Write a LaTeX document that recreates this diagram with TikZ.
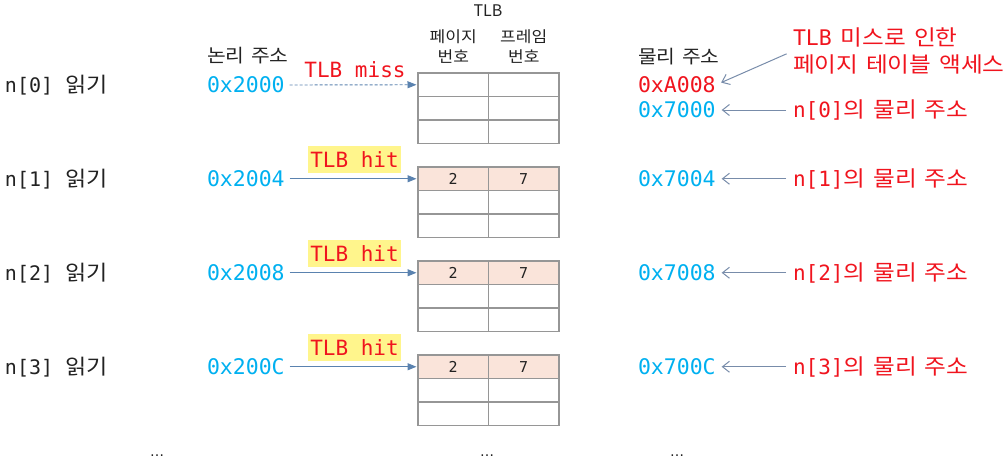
\documentclass[tikz,border=0pt]{standalone}
\usepackage{fontspec}
\setmainfont[FakeStretch=1.1, WordSpace=1.5]{Noto Sans CJK KR}
\setmonofont{DejaVu Sans Mono}
\newfontfamily\dotfont{DejaVu Sans}
\newfontfamily\titlefont{Noto Sans CJK KR}
\usetikzlibrary{arrows.meta}
\definecolor{addrblue}{RGB}{0,176,240}
\definecolor{lblred}{RGB}{240,20,30}
\definecolor{hlyellow}{RGB}{255,245,140}
\definecolor{hitpink}{RGB}{250,228,218}
\definecolor{gridgray}{RGB}{150,150,150}
\definecolor{arrowblue}{RGB}{90,130,175}
\definecolor{backblue}{RGB}{120,140,170}
\definecolor{inkdark}{RGB}{34,34,34}
\begin{document}
\begin{tikzpicture}[x=1pt,y=-1pt,
  every node/.style={inner sep=0pt, outer sep=0pt, text=inkdark},
  rowlabel/.style={anchor=west, font=\fontsize{21}{24}\selectfont},
  addr/.style={anchor=west, font=\fontsize{21.5}{26}\selectfont\ttfamily, text=addrblue},
  header/.style={anchor=west, font=\fontsize{18.5}{22}\selectfont},
  colhead/.style={align=center, font=\fontsize{15.5}{20}\selectfont},
  cell/.style={draw=gridgray, line width=1.5pt, minimum width=70.5pt, minimum height=23.5pt, font=\fontsize{15}{18}\selectfont\ttfamily},
  hitcell/.style={cell, fill=hitpink},
  hitlabel/.style={fill=hlyellow, inner xsep=2.5pt, minimum height=27pt, text=lblred, font=\fontsize{21}{25}\selectfont\ttfamily},
  misslabel/.style={text=lblred, font=\fontsize{21}{25}\selectfont\ttfamily},
  note/.style={anchor=west, align=left, text=lblred, font=\fontsize{21.5}{27}\selectfont},
  fwdarrow/.style={draw=arrowblue, line width=1.2pt, -{Triangle[length=9pt,width=7pt]}, shorten <=5pt, shorten >=1.5pt},
  missarrow/.style={fwdarrow, dashed, line width=0.9pt, dash pattern=on 3pt off 2pt},
  backarrow/.style={draw=backblue, line width=1pt, -{Straight Barb[length=7pt,width=11pt]}, shorten <=7pt, shorten >=6pt},
  dots/.style={font=\dotfont\fontsize{14}{16}\selectfont}
]
\useasboundingbox (0,0) rectangle (1007,466);

% title and headers
\node[font=\titlefont\fontsize{16}{19}\selectfont] (tlbtitle) at (488,11) {TLB};
\node[colhead] (hpage) at (453.25,47) {페이지\\번호};
\node[colhead] (hframe) at (523.75,47) {프레임\\번호};
\node[header] (hlog) at (207,56) {논리 주소};
\node[header] (hphys) at (638,57) {물리 주소};

% row 0 (miss)
\node[rowlabel] (r0) at (5,85) {{\fontsize{20}{24}\selectfont\ttfamily n[0] }읽기};
\node[addr] (a0) at (207,85) {0x2000};
\foreach \r in {0,1,2}{
  \node[cell] (t0r\r a) at (453.25,{84.75+23.5*\r}) {};
  \node[cell] (t0r\r b) at (523.75,{84.75+23.5*\r}) {};
}
\node[misslabel] (miss) at (355,70) {TLB miss};
\draw[missarrow] (a0.east) -- (t0r0a.west);
\node[addr, text=lblred] (pA) at (638,85) {0xA008};
\node[addr] (p0) at (638,110) {0x7000};
\node[note] (nmiss) at (793,51) {{\fontsize{21.5}{27}\selectfont\ttfamily TLB}\hspace{9pt}미스로 인한\\페이지 테이블 액세스};
\node[note] (n0) at (793,110) {{\fontsize{21}{27}\selectfont\ttfamily n[0]}의 물리 주소};
\draw[backarrow] (nmiss.west) -- (pA.east);
\draw[backarrow] (n0.west) -- (p0.east);

% rows 1-3 (hits)
\foreach \k/\la/\pa in {1/0x2004/0x7004, 2/0x2008/0x7008, 3/0x200C/0x700C}{
  \pgfmathsetmacro{\yc}{84.75+94*\k}
  \node[rowlabel] (r\k) at (5,\yc) {{\fontsize{20}{24}\selectfont\ttfamily n[\k] }읽기};
  \node[addr] (a\k) at (207,\yc) {\la};
  \node[hitcell] (t\k r0a) at (453.25,\yc) {2};
  \node[hitcell] (t\k r0b) at (523.75,\yc) {7};
  \foreach \r in {1,2}{
    \node[cell] (t\k r\r a) at (453.25,{\yc+23.5*\r}) {};
    \node[cell] (t\k r\r b) at (523.75,{\yc+23.5*\r}) {};
  }
  \node[hitlabel] (hit\k) at (354.5,{\yc-19.5}) {TLB hit};
  \draw[fwdarrow] (a\k.east) -- (t\k r0a.west);
  \node[addr] (p\k) at (638,\yc) {\pa};
  \node[note] (n\k) at (793,\yc) {{\fontsize{21}{27}\selectfont\ttfamily n[\k]}의 물리 주소};
  \draw[backarrow] (n\k.west) -- (p\k.east);
}

% continuation dots
\node[dots] (d1) at (157,456) {…};
\node[dots] (d2) at (487,456) {…};
\node[dots] (d3) at (677,456) {…};
\end{tikzpicture}
\end{document}
